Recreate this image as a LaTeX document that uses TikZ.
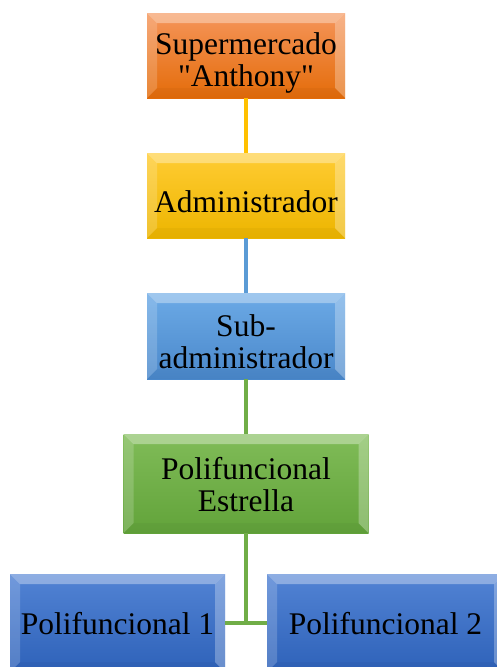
\documentclass[tikz,border=0pt]{standalone}
\usepackage{fontspec}
\setmainfont{Liberation Serif}
\usetikzlibrary{positioning}

\definecolor{orgTop}{HTML}{F5955A}
\definecolor{orgBot}{HTML}{E46C0A}
\definecolor{ylwTop}{HTML}{FFCC33}
\definecolor{ylwBot}{HTML}{EDB500}
\definecolor{bluTop}{HTML}{6CAAE6}
\definecolor{bluBot}{HTML}{4A88CB}
\definecolor{grnTop}{HTML}{80BC58}
\definecolor{grnBot}{HTML}{62A33A}
\definecolor{dbluTop}{HTML}{5283D4}
\definecolor{dbluBot}{HTML}{2E62B9}
\definecolor{lnYellow}{HTML}{FFC000}
\definecolor{lnBlue}{HTML}{5B9BD5}
\definecolor{lnGreen}{HTML}{70AD47}

% invisible strut that pushes the text block down a little
\newcommand{\liftline}[1]{\rule{0pt}{#1}}

\begin{document}
\begin{tikzpicture}[
    x=1pt, y=-1pt,
    % Bevelled box for the chart
    box/.style={rectangle, inner sep=0pt, outer sep=0pt, align=center,
        font=\fontsize{31.5}{32}\selectfont,
        path picture={
            \fill[white, opacity=0.35] (path picture bounding box.north west)
                -- (path picture bounding box.north east)
                -- ([xshift=-10pt, yshift=-10pt]path picture bounding box.north east)
                -- ([xshift=10pt, yshift=-10pt]path picture bounding box.north west) -- cycle;
            \fill[white, opacity=0.18] (path picture bounding box.north west)
                -- ([xshift=10pt, yshift=-10pt]path picture bounding box.north west)
                -- ([xshift=10pt, yshift=10pt]path picture bounding box.south west)
                -- (path picture bounding box.south west) -- cycle;
            \fill[white, opacity=0.28] (path picture bounding box.north east)
                -- ([xshift=-10pt, yshift=-10pt]path picture bounding box.north east)
                -- ([xshift=-10pt, yshift=10pt]path picture bounding box.south east)
                -- (path picture bounding box.south east) -- cycle;
            \fill[black, opacity=0.03] (path picture bounding box.south west)
                -- ([xshift=10pt, yshift=10pt]path picture bounding box.south west)
                -- ([xshift=-10pt, yshift=10pt]path picture bounding box.south east)
                -- (path picture bounding box.south east) -- cycle;
        }},
    link/.style={line width=3.5pt}
]

    \useasboundingbox (0,0) rectangle (496,667);

    % Chain of boxes
    \node[box, top color=orgTop, bottom color=orgBot, minimum width=198pt, minimum height=85pt]
        (super) at (246,55.5) {\liftline{37.5pt}Supermercado\\\textquotedbl Anthony\textquotedbl};
    \node[box, top color=ylwTop, bottom color=ylwBot, minimum width=198pt, minimum height=85pt,
        below=55pt of super] (admin) {\liftline{35pt}Administrador};
    \node[box, top color=bluTop, bottom color=bluBot, minimum width=198pt, minimum height=86pt,
        below=55pt of admin] (subadmin) {\liftline{33.5pt}Sub-\\administrador};
    \node[box, top color=grnTop, bottom color=grnBot, minimum width=245pt, minimum height=99pt,
        below=55pt of subadmin] (estrella) {\liftline{25pt}Polifuncional\\Estrella};

    % Bottom row (cut by the page edge)
    \node[box, top color=dbluTop, bottom color=dbluBot, minimum width=215pt, minimum height=98pt]
        (poli1) at (117.5,623) {\liftline{24pt}Polifuncional 1};
    \node[box, top color=dbluTop, bottom color=dbluBot, minimum width=237pt, minimum height=98pt]
        (poli2) at (385.5,623) {\liftline{24pt}Polifuncional 2};

    % Connectors
    \draw[link, lnYellow] (super) -- (admin);
    \draw[link, lnBlue] (admin) -- (subadmin);
    \draw[link, lnGreen] (subadmin) -- (estrella);
    \draw[link, lnGreen] (estrella) -- (estrella |- poli1.east);
    \draw[link, lnGreen] (poli1) -- (poli2);

\end{tikzpicture}
\end{document}
